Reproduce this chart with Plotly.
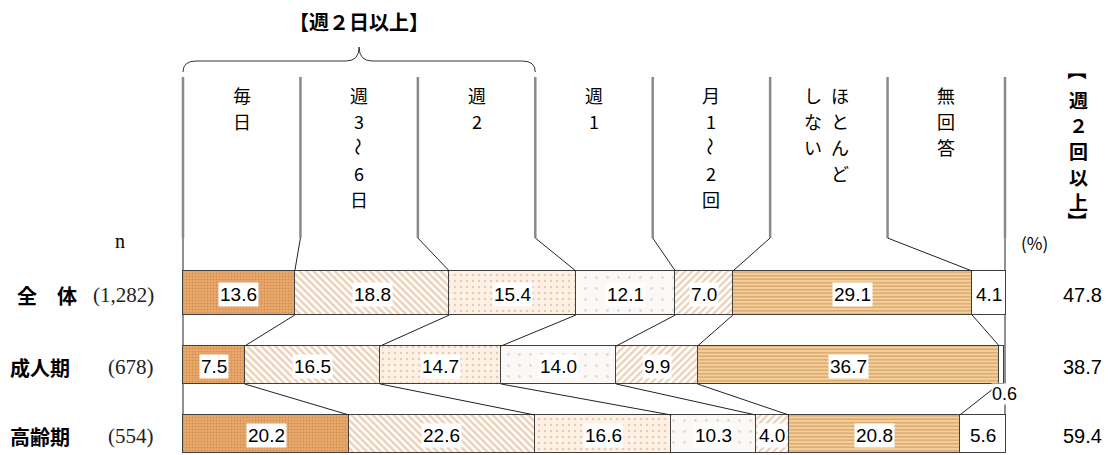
import plotly.graph_objects as go
from itertools import accumulate

# groups (rows) and sample sizes
groups = ["全　体", "成人期", "高齢期"]
n_labels = ["(1,282)", "(678)", "(554)"]

# answer categories, left to right
categories = ["毎日", "週3〜6日", "週2", "週1", "月1〜2回", "ほとんどしない", "無回答"]
# header text, vertical columns read right to left
header_text = [["毎日"], ["週3〜6日"], ["週2"], ["週1"], ["月1〜2回"], ["ほとんど", "しない"], ["無回答"]]

# shares (%) per category for 全体 / 成人期 / 高齢期
mainichi = [13.6, 7.5, 20.2]
shu3_6 = [18.8, 16.5, 22.6]
shu2 = [15.4, 14.7, 16.6]
shu1 = [12.1, 14.0, 10.3]
tsuki1_2 = [7.0, 9.9, 4.0]
hotondo = [29.1, 36.7, 20.8]
mukaito = [4.1, 0.6, 5.6]
series = [mainichi, shu3_6, shu2, shu1, tsuki1_2, hotondo, mukaito]

# 【週2回以上】 column
week2_plus = [47.8, 38.7, 59.4]

# ---- layout / style (positions in page pixels) ----
W, H = 1110, 455
OFF = 8  # page body margin around the plot div
PLOT_L, PLOT_R = 183, 1005
SC = (PLOT_R - PLOT_L) / 100.0
ROW_Y = [293, 365, 434]
ROW_H = [44, 38, 38]
HEAD_TOP, HEAD_BOT = 77, 238

styles = [
    dict(bgcolor="#E9A96C", fgcolor="#B8743A", shape=".", size=3, solidity=0.3),
    dict(bgcolor="#FFFFFF", fgcolor="#DDA170", shape="\\", size=5, solidity=0.5),
    dict(bgcolor="#FDF1E6", fgcolor="#D8A27C", shape=".", size=6, solidity=0.12),
    dict(bgcolor="#FBF8F6", fgcolor="#B8BCCB", shape=".", size=11, solidity=0.05),
    dict(bgcolor="#FFFFFF", fgcolor="#DCA068", shape="/", size=5, solidity=0.45),
    dict(bgcolor="#F4D09C", fgcolor="#C4823F", shape="-", size=3.5, solidity=0.45),
    dict(bgcolor="#FFFFFF", fgcolor="#FFFFFF", shape="", size=6, solidity=0.1),
]

GOTHIC = "Noto Sans CJK JP"
SANS = "Liberation Sans"
SERIF = "Liberation Serif"


def px_to_x(p):
    return (p - PLOT_L) / SC


fig = go.Figure()
for cat, vals, st in zip(categories, series, styles):
    fig.add_trace(go.Bar(
        y=ROW_Y, x=vals, width=ROW_H, orientation="h", name=cat,
        marker=dict(color=st["bgcolor"], pattern=st,
                    line=dict(color="#404040", width=1.2)),
        hoverinfo="skip", showlegend=False,
    ))

annotations = []
shapes = []

# data labels in white boxes
cums = []
for r in range(len(groups)):
    row = [s[r] for s in series]
    cum = list(accumulate(row))
    cums.append(cum)
    for j, v in enumerate(row):
        mid = cum[j] - v / 2
        if v < 1:
            annotations.append(dict(x=mid + 0.3, y=ROW_Y[r] + ROW_H[r] / 2 + 10,
                                    text=f"{v:.1f}", showarrow=False, bgcolor="white",
                                    borderpad=0, font=dict(family=SANS, size=18, color="black")))
        else:
            annotations.append(dict(x=mid, y=ROW_Y[r] + 1, text=f"{v:.1f}", showarrow=False,
                                    bgcolor="white", borderpad=1,
                                    font=dict(family=SANS, size=19, color="black")))

line_k = dict(color="#222222", width=1)

# connectors between rows
for r in range(len(groups) - 1):
    for j in range(len(categories) - 1):
        shapes.append(dict(type="line", xref="x", yref="y",
                           x0=cums[r][j], y0=ROW_Y[r] + ROW_H[r] / 2,
                           x1=cums[r + 1][j], y1=ROW_Y[r + 1] - ROW_H[r + 1] / 2,
                           line=line_k, layer="above"))

# header column lines and connectors to first row
ncol = len(categories)
for k in range(ncol + 1):
    xk = k * 100.0 / ncol
    shapes.append(dict(type="line", xref="x", yref="y", x0=xk, x1=xk,
                       y0=HEAD_TOP, y1=HEAD_BOT, line=dict(color="#8A8A8A", width=2.5)))
    if 0 < k < ncol:
        shapes.append(dict(type="line", xref="x", yref="y", x0=xk, y0=HEAD_BOT,
                           x1=cums[0][k - 1], y1=ROW_Y[0] - ROW_H[0] / 2, line=line_k))
for xk in (0, 100):
    shapes.append(dict(type="line", xref="x", yref="y", x0=xk, x1=xk,
                       y0=HEAD_BOT, y1=ROW_Y[-1] + ROW_H[-1] / 2, line=line_k, layer="below"))

# header vertical text
colw = 100.0 / ncol
for k, cols in enumerate(header_text):
    cx = (k + 0.5) * colw
    nc = len(cols)
    for c, txt in enumerate(cols):
        offs = ((nc - 1) / 2 - c) * 27 - (2 if nc > 1 else 0)
        for i, ch in enumerate(txt):
            annotations.append(dict(
                x=cx + offs / SC, y=95 + i * 26, text=ch, showarrow=False,
                textangle=90 if ch == "〜" else 0,
                font=dict(family=GOTHIC, size=18, color="black")))

# brace over 週2日以上 columns
bx1 = 3 * colw
mid = bx1 / 2
r = 13 / SC
path = (f"M 0,72 Q 0,61 {r},61 L {mid - r},61 Q {mid},61 {mid},47 "
        f"Q {mid},61 {mid + r},61 L {bx1 - r},61 Q {bx1},61 {bx1},72")
shapes.append(dict(type="path", xref="x", yref="y", path=path,
                   line=dict(color="#333333", width=1)))
annotations.append(dict(x=mid, y=21, text="<b>【週２日以上】</b>", showarrow=False,
                        borderpad=0, font=dict(family=GOTHIC, size=20, color="black")))

# right vertical title
right_title = ["【", "週", "２", "回", "以", "上", "】"]
right_y = [70, 99, 124, 150, 176, 201, 221]
for ch, yy in zip(right_title, right_y):
    annotations.append(dict(x=px_to_x(1078), y=yy, text=f"<b>{ch}</b>", showarrow=False,
                            textangle=90 if ch in "【】" else 0,
                            font=dict(family=GOTHIC, size=19, color="black")))
annotations.append(dict(x=px_to_x(1034), y=242, text="(%)", showarrow=False,
                        font=dict(family=GOTHIC, size=17, color="black")))

# left labels
annotations.append(dict(x=px_to_x(120), y=241, text="n", showarrow=False,
                        font=dict(family=SERIF, size=20, color="black")))
for r in range(len(groups)):
    annotations.append(dict(x=px_to_x(8 if r else 15), y=ROW_Y[r] + 2, text=f"<b>{groups[r]}</b>",
                            showarrow=False, xanchor="left",
                            font=dict(family=GOTHIC, size=20, color="black")))
    annotations.append(dict(x=px_to_x(156), y=ROW_Y[r] + 2, text=n_labels[r], showarrow=False,
                            xanchor="right", font=dict(family=SERIF, size=21, color="#222222")))
    annotations.append(dict(x=px_to_x(1082), y=ROW_Y[r] + 2, text=f"{week2_plus[r]:.1f}",
                            showarrow=False, font=dict(family=SANS, size=20, color="black")))

# the plot div sits OFF px inside the page, so it covers page pixels OFF..W, OFF..H
fig.update_layout(
    width=W - OFF, height=H - OFF, margin=dict(l=0, r=0, t=0, b=0),
    paper_bgcolor="white", plot_bgcolor="white",
    barmode="stack", bargap=0,
    xaxis=dict(range=[px_to_x(OFF), px_to_x(W)], domain=[0, 1], visible=False, fixedrange=True),
    yaxis=dict(range=[H, OFF], domain=[0, 1], visible=False, fixedrange=True),
    annotations=annotations, shapes=shapes,
)

fig.write_html("out.html")
